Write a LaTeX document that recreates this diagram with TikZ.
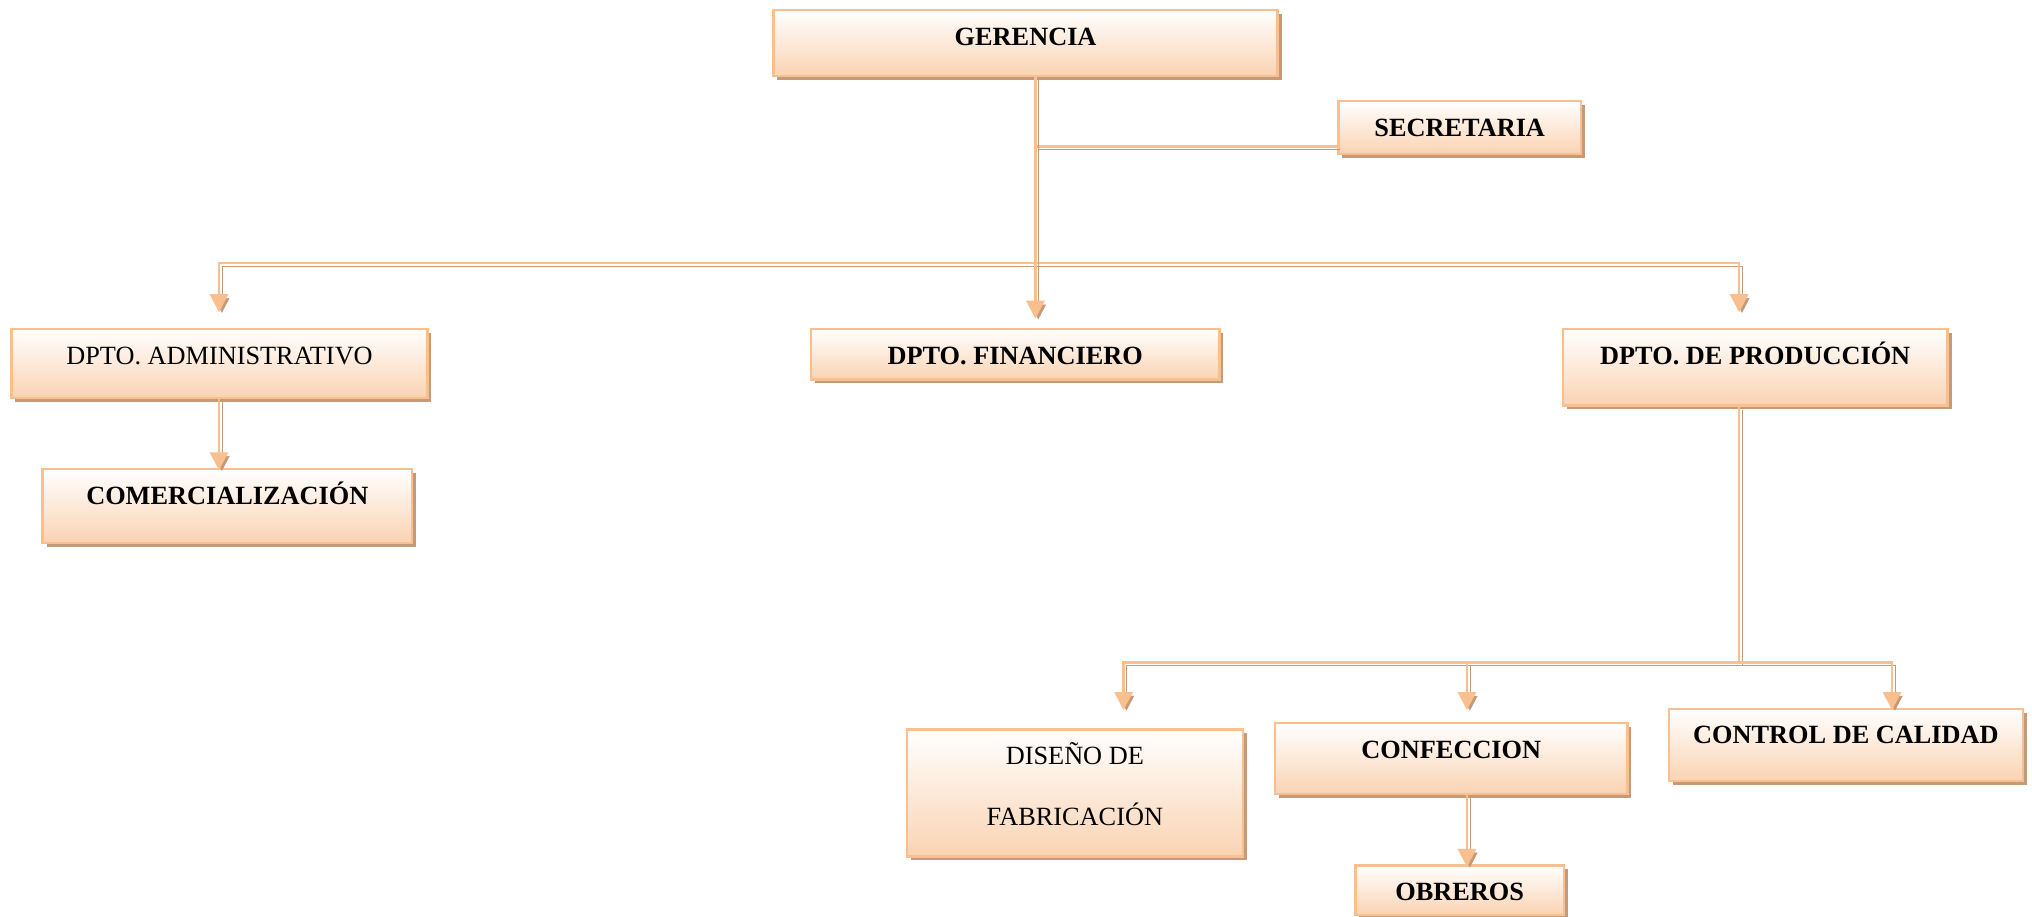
\documentclass[tikz,border=0pt]{standalone}
\usepackage{fontspec}
\setmainfont{Liberation Serif}
\usetikzlibrary{arrows.meta,shadows}

\definecolor{boxborder}{HTML}{F9BF8F}
\definecolor{boxfill}{HTML}{FAD3B2}
\definecolor{boxshadow}{HTML}{C49A78}
\definecolor{lineor}{HTML}{F9BF8F}
\definecolor{lineshade}{HTML}{C49A78}

\tikzset{
  orgbox/.style={draw=boxborder, line width=1.8pt, top color=white, bottom color=boxfill,
    inner sep=0pt, anchor=north west,
    drop shadow={shadow xshift=3pt, shadow yshift=-3pt, fill=boxshadow, opacity=1}},
  lbl/.style={anchor=base, inner sep=0pt, font=\fontsize{20.3}{24}\selectfont},
  lblb/.style={anchor=base, inner sep=0pt, font=\fontsize{20.3}{24}\selectfont\bfseries},
  conn/.style={line width=2pt, draw=lineor,
    preaction={draw=lineshade, transform canvas={xshift=2.2pt, yshift=-2.2pt}}},
  tipend/.style={-{Triangle[width=14pt,length=14pt]}},
  tipboth/.style={{Triangle[width=14pt,length=14pt]}-{Triangle[width=14pt,length=14pt]}}
}

\begin{document}
\begin{tikzpicture}[x=1pt,y=-1pt]
\useasboundingbox (0,0) rectangle (1568,707);

% boxes
\node[orgbox, minimum width=389pt, minimum height=51pt] (ger)  at (596,7) {};
\node[orgbox, minimum width=187pt, minimum height=41pt] (sec)  at (1032,77) {};
\node[orgbox, minimum width=321pt, minimum height=53pt] (adm)  at (8,253) {};
\node[orgbox, minimum width=285pt, minimum height=57pt] (com)  at (32,361) {};
\node[orgbox, minimum width=315pt, minimum height=39pt] (fin)  at (625,253) {};
\node[orgbox, minimum width=297pt, minimum height=59pt] (prod) at (1205,253) {};
\node[orgbox, minimum width=259pt, minimum height=98pt] (dis)  at (699,562) {};
\node[orgbox, minimum width=272pt, minimum height=55pt] (conf) at (983,557) {};
\node[orgbox, minimum width=273pt, minimum height=56pt] (ctrl) at (1287,546) {};
\node[orgbox, minimum width=161pt, minimum height=38pt] (obr)  at (1045,667) {};

% labels
\node[lblb] (gerT)  at ([yshift=-28pt]ger.north)  {GERENCIA};
\node[lblb] (secT)  at ([yshift=-28pt]sec.north)  {SECRETARIA};
\node[lbl]  (admT)  at ([yshift=-28pt]adm.north)  {DPTO. ADMINISTRATIVO};
\node[lblb] (comT)  at ([yshift=-28pt]com.north)  {COMERCIALIZACIÓN};
\node[lblb] (finT)  at ([yshift=-28pt]fin.north)  {DPTO. FINANCIERO};
\node[lblb] (prodT) at ([yshift=-28pt]prod.north) {DPTO. DE PRODUCCIÓN};
\node[lbl]  (disT1) at ([yshift=-28pt]dis.north)  {DISEÑO DE};
\node[lbl]  (disT2) at ([yshift=-75pt]dis.north)  {FABRICACIÓN};
\node[lblb] (confT) at ([yshift=-28pt]conf.north) {CONFECCION};
\node[lblb] (ctrlT) at ([yshift=-28pt]ctrl.north) {CONTROL DE CALIDAD};
\node[lblb] (obrT)  at ([yshift=-28pt]obr.north)  {OBREROS};

% junction points of the connector lines
\coordinate (trunk) at (799,203);
\coordinate (secj)  at (799,113);
\coordinate (busL)  at (169,203);
\coordinate (busR)  at (1342,203);
\coordinate (bus2)  at (1342,511);
\coordinate (b2L)   at (867,511);
\coordinate (b2C)   at (1132,511);
\coordinate (b2R)   at (1460,511);

% connectors
\draw[conn] (sec.west |- secj) -- (secj);
\draw[conn, tipboth, shorten <=12pt, shorten >=12pt]
  (adm.north -| busL) -- (busL) -- (busR) -- (prod.north -| busR);
\draw[conn, tipend, shorten >=7pt] (ger.south -| trunk) -- (fin.north -| trunk);
\draw[conn, tipend, shorten >=-2pt] (adm.south -| busL) -- (com.north -| busL);
\draw[conn] (prod.south -| bus2) -- (bus2);
\draw[conn, tipboth, shorten <=14pt, shorten >=-2pt]
  (dis.north -| b2L) -- (b2L) -- (b2R) -- (ctrl.north -| b2R);
\draw[conn, tipend, shorten >=9pt] (b2C) -- (conf.north -| b2C);
\draw[conn, tipend, shorten >=-2pt] (conf.south -| b2C) -- (obr.north -| b2C);
\end{tikzpicture}
\end{document}
